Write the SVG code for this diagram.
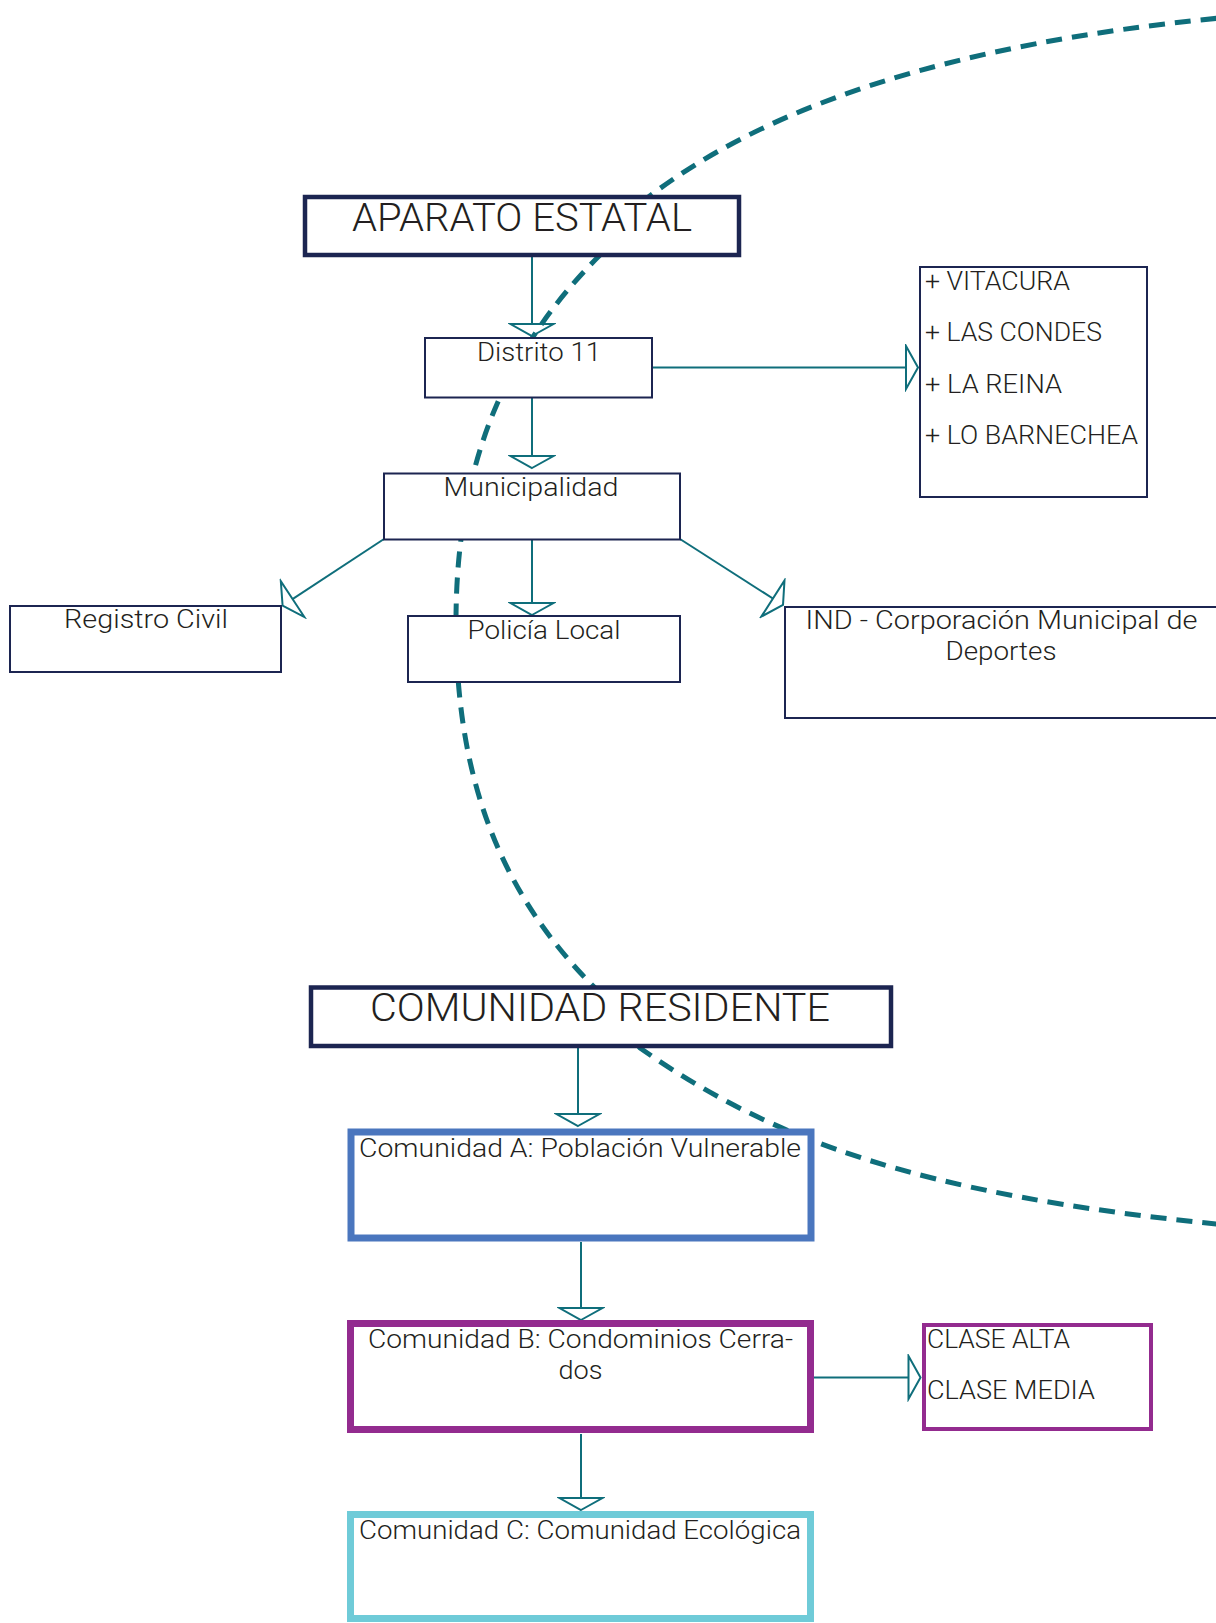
<svg xmlns="http://www.w3.org/2000/svg" width="1216" height="1623" viewBox="0 0 1216 1623">
<defs>
<style>
.box{fill:#fff;stroke:#1c2551;stroke-width:2}
.big{stroke-width:4.5}
.t{font-family:Roboto,"Liberation Sans",sans-serif;font-weight:300;font-size:26px;fill:#231f20}
.c{text-anchor:middle}
.h{font-size:39px}
.ln{fill:none;stroke:#0f6e7b;stroke-width:2;marker-end:url(#arr)}
.dash{fill:none;stroke:#0f6e7b;stroke-width:5;stroke-dasharray:16 10}
</style>
<marker id="arr" markerUnits="userSpaceOnUse" viewBox="-2 -24 16 48" markerWidth="16" markerHeight="48" refX="12" refY="0" orient="auto">
<path d="M12,0 L0,-21.5 L0,21.5 Z" fill="#fff" stroke="#0f6e7b" stroke-width="2"/>
</marker>
</defs>
<rect width="1216" height="1623" fill="#fff"/>
<g id="connectors">
<path class="ln" d="M532,257 L532,336"/>
<path class="ln" d="M532,398 L532,468"/>
<path class="ln" d="M652,367.5 L918,367.5"/>
<path class="ln" d="M384,539 L282.6,605.7"/>
<path class="ln" d="M532,539 L532,615"/>
<path class="ln" d="M680,539 L783,605"/>
<path class="ln" d="M578,1048 L578,1126"/>
<path class="ln" d="M581,1242 L581,1320"/>
<path class="ln" d="M814,1377.5 L920.5,1377.5"/>
<path class="ln" d="M581,1434 L581,1510"/>
<path class="dash" d="M1216.7,18.3 C953.35,44.15 763.2,105.1 638.9,204.5 L599,256 C507.1,347.9 456,462 456,622 C456,772 496,889 595,988 L640,1048 C771,1139.7 918.2,1194.1 1216.7,1224"/>
</g>
<g id="aparato"><rect class="box big" x="305" y="197" width="434" height="58"/><text class="t c h" x="522" y="231" textLength="340" lengthAdjust="spacingAndGlyphs">APARATO ESTATAL</text></g>
<g id="distrito"><rect class="box" x="425" y="338" width="227" height="59.5"/><text class="t c" x="539" y="361" textLength="124" lengthAdjust="spacingAndGlyphs">Distrito 11</text></g>
<g id="comunas"><rect class="box" x="920" y="267" width="227" height="230"/>
<text class="t" x="925" y="290" textLength="145" lengthAdjust="spacingAndGlyphs">+ VITACURA</text>
<text class="t" x="925" y="341" textLength="177" lengthAdjust="spacingAndGlyphs">+ LAS CONDES</text>
<text class="t" x="925" y="393" textLength="137" lengthAdjust="spacingAndGlyphs">+ LA REINA</text>
<text class="t" x="925" y="444" textLength="213" lengthAdjust="spacingAndGlyphs">+ LO BARNECHEA</text></g>
<g id="municipalidad"><rect class="box" x="384" y="473.5" width="296" height="66"/><text class="t c" x="531" y="496" textLength="175" lengthAdjust="spacingAndGlyphs">Municipalidad</text></g>
<g id="registro"><rect class="box" x="10" y="606" width="271" height="66"/><text class="t c" x="146" y="628" textLength="164" lengthAdjust="spacingAndGlyphs">Registro Civil</text></g>
<g id="policia"><rect class="box" x="408" y="616" width="272" height="66"/><text class="t c" x="544" y="639" textLength="153" lengthAdjust="spacingAndGlyphs">Policía Local</text></g>
<g id="ind"><rect class="box" x="785" y="607" width="433" height="111"/><text class="t c" x="1001.5" y="629" textLength="392" lengthAdjust="spacingAndGlyphs">IND - Corporación Municipal de</text><text class="t c" x="1001" y="660" textLength="111" lengthAdjust="spacingAndGlyphs">Deportes</text></g>
<g id="comunidad"><rect class="box big" x="311" y="987.5" width="580" height="58.5"/><text class="t c h" x="600" y="1021" textLength="460" lengthAdjust="spacingAndGlyphs">COMUNIDAD RESIDENTE</text></g>
<g id="comA"><rect class="box" style="stroke:#4a76be;stroke-width:7" x="351" y="1132" width="460" height="106"/><text class="t c" x="580" y="1157" textLength="442" lengthAdjust="spacingAndGlyphs">Comunidad A: Población Vulnerable</text></g>
<g id="comB"><rect class="box" style="stroke:#932b8f;stroke-width:7" x="350.5" y="1323.5" width="460" height="106"/><text class="t c" x="580.5" y="1348" textLength="425" lengthAdjust="spacingAndGlyphs">Comunidad B: Condominios Cerra-</text><text class="t c" x="580.5" y="1379" textLength="44" lengthAdjust="spacingAndGlyphs">dos</text></g>
<g id="clases"><rect class="box" style="stroke:#932b8f;stroke-width:4" x="924" y="1325" width="227" height="104"/><text class="t" x="927" y="1348" textLength="143" lengthAdjust="spacingAndGlyphs">CLASE ALTA</text><text class="t" x="927" y="1399" textLength="168" lengthAdjust="spacingAndGlyphs">CLASE MEDIA</text></g>
<g id="comC"><rect class="box" style="stroke:#6fcbd8;stroke-width:7" x="350.5" y="1514.5" width="460" height="104"/><text class="t c" x="580" y="1539" textLength="442" lengthAdjust="spacingAndGlyphs">Comunidad C: Comunidad Ecológica</text></g>
</svg>
